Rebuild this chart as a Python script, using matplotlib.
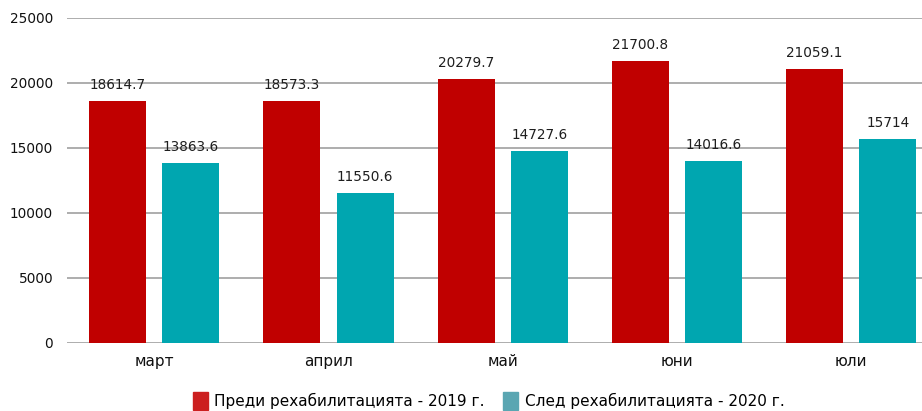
import numpy as np
import matplotlib
matplotlib.use("Agg")
import matplotlib.pyplot as plt
from matplotlib.patches import Patch

months = ["март", "април", "май", "юни", "юли"]
before_2019 = [18614.7, 18573.3, 20279.7, 21700.8, 21059.1]
after_2020 = [13863.6, 11550.6, 14727.6, 14016.6, 15714]
before_labels = ["18614.7", "18573.3", "20279.7", "21700.8", "21059.1"]
after_labels = ["13863.6", "11550.6", "14727.6", "14016.6", "15714"]
legend_labels = ["Преди рехабилитацията - 2019 г.", "След рехабилитацията - 2020 г."]

red = "#c00000"
teal = "#00a6b0"

plt.rcParams['font.family'] = ['DejaVu Sans']

fig = plt.figure(figsize=(9.22, 4.11), dpi=100)
ax = fig.add_axes([0.0727, 0.1655, 0.945, 0.791])

x = np.arange(len(months))
w = 0.327
off = 0.21
ax.bar(x - off, before_2019, w, color=red, zorder=3)
ax.bar(x + off, after_2020, w, color=teal, zorder=3)

# value labels above bars
for i in range(len(months)):
    ax.text(x[i] - off, before_2019[i] + 700, before_labels[i], ha='center', va='bottom',
            fontsize=9.8, color='#1e1e1e', zorder=4)
    ax.text(x[i] + off, after_2020[i] + 700, after_labels[i], ha='center', va='bottom',
            fontsize=9.8, color='#1e1e1e', zorder=4)

ax.set_xlim(-0.5, len(months) - 0.5)
ax.set_ylim(0, 25000)
ax.set_yticks(np.arange(0, 25001, 5000))
ax.set_xticks(x)
ax.set_xticklabels(months, fontsize=11, color='#111111')
ax.tick_params(axis='x', length=0, pad=8)
ax.tick_params(axis='y', length=0, pad=10, labelsize=9.8, labelcolor='#111111')
ax.yaxis.grid(True, color='#a0a0a0', linewidth=1.2, zorder=0)
for s in ax.spines.values():
    s.set_visible(False)

handles = [Patch(color="#cc1f1f"), Patch(color="#5aa6b2")]
fig.legend(handles, legend_labels, loc='lower center', bbox_to_anchor=(0.53, -0.03), ncol=2,
           frameon=False, fontsize=11, handlelength=1.0, handleheight=1.4,
           handletextpad=0.4, columnspacing=1.2)

fig.savefig("out.png", dpi=100)
